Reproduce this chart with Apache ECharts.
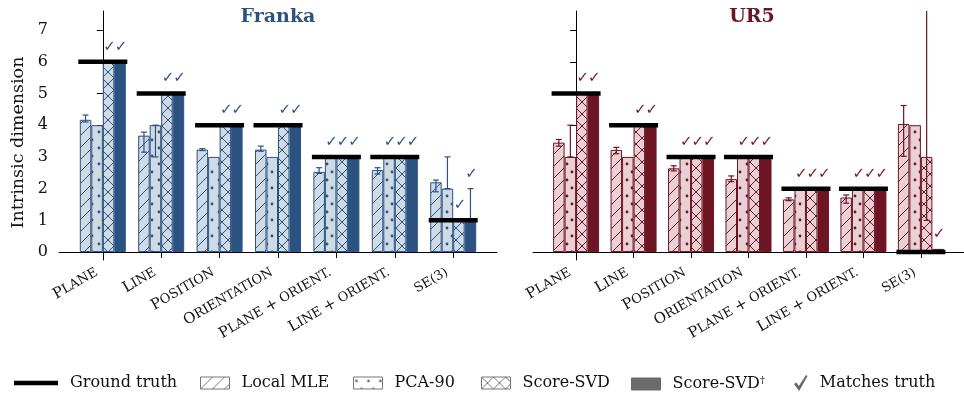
<!DOCTYPE html>
<html><head><meta charset="utf-8">
<script src="https://cdn.jsdelivr.net/npm/echarts@6/dist/echarts.min.js"></script>
<style>html,body{margin:0;padding:0;background:#fff}#c{width:964px;height:397px}</style>
</head><body><div id="c"></div>
<script>
// ---------------- data ----------------
const categories = ['Plane', 'Line', 'Position', 'Orientation', 'Plane + orient.', 'Line + orient.', 'se(3)'];
const methods = ['Local MLE', 'PCA-90', 'Score-SVD', 'Score-SVD†'];
const yTicks = [0, 1, 2, 3, 4, 5, 6, 7];
const xTicks = [0, 1, 2, 3, 4, 5, 6];

// Franka
const frankaTruth   = [6, 5, 4, 4, 3, 3, 1];
const frankaMLE     = [4.17, 3.67, 3.23, 3.23, 2.53, 2.59, 2.20];
const frankaMLELo   = [4.10, 3.15, 3.20, 3.18, 2.48, 2.46, 1.90];
const frankaMLEHi   = [4.32, 3.78, 3.26, 3.34, 2.66, 2.66, 2.27];
const frankaPCA     = [4, 4, 3, 3, 3, 3, 2];
const frankaPCALo   = [4, 3, 3, 3, 3, 3, 2];
const frankaPCAHi   = [4, 4, 3, 3, 3, 3, 3];
const frankaSVD     = [6, 5, 4, 4, 3, 3, 1];
const frankaSVDLo   = [6, 5, 4, 4, 3, 3, 1];
const frankaSVDHi   = [6, 5, 4, 4, 3, 3, 1];
const frankaSVDd    = [6, 5, 4, 4, 3, 3, 1];
const frankaSVDdLo  = [6, 5, 4, 4, 3, 3, 1];
const frankaSVDdHi  = [6, 5, 4, 4, 3, 3, 2];
// which methods are ticked per category [MLE, PCA, SVD, SVD†]
const frankaChecks  = [[0,0,1,1],[0,0,1,1],[0,0,1,1],[0,0,1,1],[0,1,1,1],[0,1,1,1],[0,0,1,1]];

// UR5
const ur5Truth   = [5, 4, 3, 3, 2, 2, 0];
const ur5MLE     = [3.45, 3.22, 2.64, 2.30, 1.66, 1.72, 4.04];
const ur5MLELo   = [3.34, 3.10, 2.56, 2.22, 1.62, 1.54, 3.02];
const ur5MLEHi   = [3.55, 3.30, 2.72, 2.40, 1.71, 1.80, 4.62];
const ur5PCA     = [3, 3, 3, 3, 2, 2, 4];
const ur5PCALo   = [3, 3, 3, 3, 2, 2, 4];
const ur5PCAHi   = [4, 3, 3, 3, 2, 2, 4];
const ur5SVD     = [5, 4, 3, 3, 2, 2, 3];
const ur5SVDLo   = [5, 4, 3, 3, 2, 2, 1];
const ur5SVDHi   = [5, 4, 3, 3, 2, 2, 12];
const ur5SVDd    = [5, 4, 3, 3, 2, 2, 0.1];
const ur5SVDdLo  = [5, 4, 3, 3, 2, 2, 0.1];
const ur5SVDdHi  = [5, 4, 3, 3, 2, 2, 0.1];
const ur5Checks  = [[0,0,1,1],[0,0,1,1],[0,1,1,1],[0,1,1,1],[0,1,1,1],[0,1,1,1],[0,0,0,1]];

// ---------------- style ----------------
const SERIF = '"DejaVu Serif", serif';
const BAR_W = 11.5;
const CAP = 6;
const FR_DARK = '#2c5282', FR_LIGHT = '#cedbe4';
const UR_DARK = '#6d1524', UR_LIGHT = '#e8d0d4';

function makePattern(kind, bg, fg) {
  const w = 12, h = kind === 'dots' ? 16 : 12;
  const c = document.createElement('canvas');
  c.width = w; c.height = h;
  const g = c.getContext('2d');
  if (bg) { g.fillStyle = bg; g.fillRect(0, 0, w, h); }
  g.strokeStyle = fg; g.fillStyle = fg; g.lineWidth = 1;
  const line = (x0, y0, x1, y1) => { g.beginPath(); g.moveTo(x0, y0); g.lineTo(x1, y1); g.stroke(); };
  if (kind === 'diag' || kind === 'cross') {
    line(-1, h + 1, w + 1, -1); line(-1, 1, 1, -1); line(w - 1, h + 1, w + 1, h - 1);
  }
  if (kind === 'cross') {
    line(-1, -1, w + 1, h + 1); line(w - 1, -1, w + 1, 1); line(-1, h - 1, 1, h + 1);
  }
  if (kind === 'dots') {
    [[3, 4], [8, 12]].forEach(([x, y]) => { g.beginPath(); g.arc(x, y, 1.4, 0, Math.PI * 2); g.fill(); });
  }
  return { image: c, repeat: 'repeat' };
}
function fills(dark, light) {
  return [makePattern('diag', light, dark), makePattern('dots', light, dark), makePattern('cross', light, dark), dark];
}

function smallCaps(str) {
  return str.split(' ').map(word => {
    if (word === '+') return '{b|+}';
    if (/^[A-Z]/.test(word)) return '{b|' + word[0] + '}{s|' + word.slice(1).toUpperCase() + '}';
    return '{s|' + word.toUpperCase() + '}';
  }).join('{s| }');
}

const panels = [
  { title: 'Franka', dark: FR_DARK, light: FR_LIGHT, truth: frankaTruth,
    vals: [frankaMLE, frankaPCA, frankaSVD, frankaSVDd],
    lo: [frankaMLELo, frankaPCALo, frankaSVDLo, frankaSVDdLo],
    hi: [frankaMLEHi, frankaPCAHi, frankaSVDHi, frankaSVDdHi], checks: frankaChecks },
  { title: 'UR5', dark: UR_DARK, light: UR_LIGHT, truth: ur5Truth,
    vals: [ur5MLE, ur5PCA, ur5SVD, ur5SVDd],
    lo: [ur5MLELo, ur5PCALo, ur5SVDLo, ur5SVDdLo],
    hi: [ur5MLEHi, ur5PCAHi, ur5SVDHi, ur5SVDdHi], checks: ur5Checks }
];

const series = [];
panels.forEach((p, pi) => {
  const f = fills(p.dark, p.light);
  methods.forEach((m, mi) => {
    series.push({
      type: 'bar', name: m, xAxisIndex: pi, yAxisIndex: pi,
      barWidth: BAR_W, barGap: '0%', z: 2,
      data: categories.map((c, i) => [i, p.vals[mi][i]]),
      itemStyle: { color: f[mi], borderColor: p.dark, borderWidth: 1 }
    });
  });
  // error bars
  const errData = [];
  categories.forEach((c, i) => methods.forEach((m, mi) => {
    if (p.hi[mi][i] > p.lo[mi][i]) errData.push([i, p.lo[mi][i], p.hi[mi][i], mi]);
  }));
  series.push({
    type: 'custom', name: 'err' + pi, xAxisIndex: pi, yAxisIndex: pi, z: 4,
    data: errData, encode: { x: 0, y: [1, 2] },
    renderItem: (params, api) => {
      const x = api.value(0), lo = api.value(1), hi = api.value(2), mi = api.value(3);
      const a = api.coord([x, lo]), b = api.coord([x, hi]);
      const cx = a[0] + (mi - 1.5) * BAR_W;
      const cs = params.coordSys;
      let y1 = b[1], capTop = true;
      if (y1 < cs.y) { y1 = cs.y; capTop = false; }
      const st = { stroke: p.dark, lineWidth: 1.2 };
      const ch = [
        { type: 'line', shape: { x1: cx, y1: a[1], x2: cx, y2: y1 }, style: st },
        { type: 'line', shape: { x1: cx - CAP / 2, y1: a[1], x2: cx + CAP / 2, y2: a[1] }, style: st }
      ];
      if (capTop) ch.push({ type: 'line', shape: { x1: cx - CAP / 2, y1: y1, x2: cx + CAP / 2, y2: y1 }, style: st });
      return { type: 'group', children: ch };
    }
  });
  // ground truth
  series.push({
    type: 'scatter', name: 'Ground truth', xAxisIndex: pi, yAxisIndex: pi, z: 5,
    symbol: 'rect', symbolSize: [49, 4.5],
    itemStyle: { color: '#000', opacity: 1 },
    data: categories.map((c, i) => [i, p.truth[i]])
  });
  // checks
  const chkData = [];
  categories.forEach((c, i) => methods.forEach((m, mi) => {
    if (p.checks[i][mi]) chkData.push([i, Math.max(p.vals[mi][i], p.hi[mi][i]), mi]);
  }));
  series.push({
    type: 'custom', name: 'Matches truth', xAxisIndex: pi, yAxisIndex: pi, z: 6,
    data: chkData, encode: { x: 0, y: 1 },
    itemStyle: { color: '#555' },
    renderItem: (params, api) => {
      const pt = api.coord([api.value(0), api.value(1)]);
      const cx = pt[0] + (api.value(2) - 1.5) * BAR_W + 1;
      return { type: 'text', style: { text: '✓', x: cx, y: pt[1] - 15, fill: p.dark,
        font: '15px "DejaVu Sans"', align: 'center', verticalAlign: 'middle' } };
    }
  });
});

const gray = '#777';
const legendCommon = {
  top: 375, padding: 0, selectedMode: false, itemHeight: 12, itemWidth: 29,
  textStyle: { fontFamily: SERIF, fontSize: 16, color: '#111', padding: [0, 0, 0, 7],
    rich: { t: { fontFamily: SERIF, fontSize: 16, color: '#111' },
            sup: { fontFamily: SERIF, fontSize: 10, color: '#111', padding: [0, 0, 8, 0] } } }
};
const legends = [
  { left: 14, itemWidth: 44, itemHeight: 4.5, data: [{ name: 'Ground truth', icon: 'rect', itemStyle: { color: '#000', opacity: 1 } }] },
  { left: 200, data: [{ name: 'Local MLE', icon: 'rect', itemStyle: { color: makePattern('diag', '#fff', gray), borderColor: gray, borderWidth: 1 } }] },
  { left: 353, data: [{ name: 'PCA-90', icon: 'rect', itemStyle: { color: makePattern('dots', '#fff', gray), borderColor: gray, borderWidth: 1 } }] },
  { left: 481, data: [{ name: 'Score-SVD', icon: 'rect', itemStyle: { color: makePattern('cross', '#fff', gray), borderColor: gray, borderWidth: 1 } }] },
  { left: 631, data: [{ name: 'Score-SVD†', icon: 'rect', itemStyle: { color: '#6b6b6b', borderColor: '#6b6b6b', borderWidth: 1 } }],
    formatter: n => '{t|Score-SVD}{sup|†}' },
  { left: 794, itemWidth: 14, itemHeight: 16, data: [{ name: 'Matches truth',
    icon: 'path://M0,9 L2.2,7.4 L4.8,11 L12,0 L13.5,1 L5.2,16 Z', itemStyle: { color: '#666' } }] }
].map(l => Object.assign({}, legendCommon, l));

const xAxisBase = (gi) => ({
  type: 'value', gridIndex: gi, min: -0.75, max: 6.75,
  axisLine: { show: true, lineStyle: { color: '#000', width: 1 } },
  axisTick: { show: true, customValues: xTicks, length: 6, lineStyle: { color: '#000' } },
  axisLabel: { customValues: xTicks, rotate: 30, margin: 8, color: '#111', padding: [0, 7, 0, 0],
    formatter: v => smallCaps(categories[Math.round(v)]),
    rich: { b: { fontFamily: SERIF, fontSize: 15, color: '#111' }, s: { fontFamily: SERIF, fontSize: 13, color: '#111' } } },
  splitLine: { show: false }
});
const yAxisBase = (gi) => ({
  type: 'value', gridIndex: gi, min: -0.25, max: 7.6,
  axisLine: { show: true, lineStyle: { color: '#000', width: 1 } },
  axisTick: { show: true, customValues: yTicks, length: 6, lineStyle: { color: '#000' } },
  axisLabel: { show: gi === 0, customValues: yTicks, margin: 11, fontFamily: SERIF, fontSize: 16, color: '#111' },
  splitLine: { show: false },
  name: gi === 0 ? 'Intrinsic dimension' : '', nameLocation: 'middle', nameGap: 32, nameRotate: 90,
  nameTextStyle: { fontFamily: SERIF, fontSize: 17.5, color: '#111', padding: [0, 14, 0, 0] }
});

const chart = echarts.init(document.getElementById('c'), null, { renderer: 'canvas' });
chart.setOption({
  animation: false,
  backgroundColor: '#fff',
  title: [
    { text: 'Franka', left: 273, top: 3, textAlign: 'center', textStyle: { fontFamily: SERIF, fontWeight: 'bold', fontSize: 19, color: FR_DARK } },
    { text: 'UR5', left: 747, top: 3, textAlign: 'center', textStyle: { fontFamily: SERIF, fontWeight: 'bold', fontSize: 19, color: UR_DARK } }
  ],
  grid: [
    { left: 59, top: 11, width: 438, height: 249 },
    { left: 533, top: 11, width: 438, height: 249 }
  ],
  xAxis: [xAxisBase(0), xAxisBase(1)],
  yAxis: [yAxisBase(0), yAxisBase(1)],
  legend: legends,
  series: series
});
</script></body></html>
